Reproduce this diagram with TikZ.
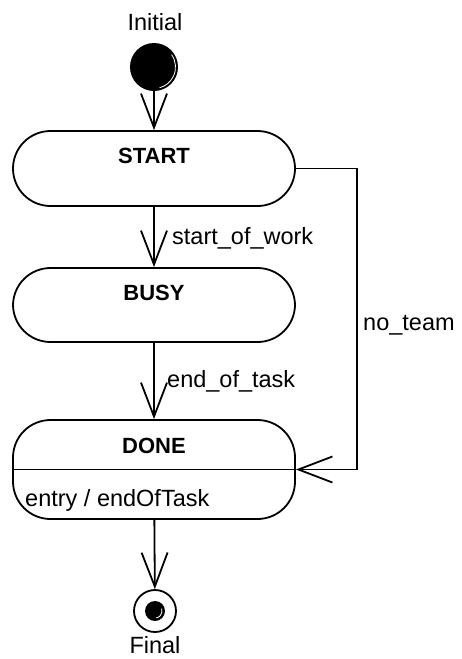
\documentclass[tikz,border=0pt]{standalone}
\usepackage{fontspec}
\setmainfont{Liberation Sans}
\usetikzlibrary{arrows.meta}
\tikzset{
  state/.style={draw, line width=1.8pt, rounded corners=37.5pt, minimum width=282pt, inner sep=0pt},
  trans/.style={draw, line width=1.8pt, -{Straight Barb[length=34pt,width=26pt,line width=1.8pt]}},
  lbl/.style={font=\fontsize{23.5}{27}\selectfont, inner sep=0pt},
  ttl/.style={font=\fontsize{22}{26}\selectfont\bfseries, inner sep=0pt, anchor=base},
}
\begin{document}
\begin{tikzpicture}[x=1pt,y=-1pt]
\useasboundingbox (0,0) rectangle (461,659);

% initial pseudo-state
\node[lbl, anchor=base] (initlbl) at (155,30) {Initial};
\node[circle, fill=black, minimum size=48pt, inner sep=0pt] (init) at (154,67) {};
\draw[white, line width=0.8pt] (init.center) ++(-35:21.5) arc[start angle=-35, end angle=75, radius=21.5];

% states
\node[state, minimum height=75pt] (start) at (154,168.5) {};
\node[ttl] (startT) at (154,163) {START};
\node[state, minimum height=74pt] (busy) at (154,305) {};
\node[ttl] (busyT) at (154,300) {BUSY};
\node[state, minimum height=99pt] (done) at (154,469.5) {};
\node[ttl] (doneT) at (154,453) {DONE};
\draw[line width=1.8pt] (done.west) -- (done.east);
\node[lbl, anchor=base west] (entry) at (25,506) {entry / endOfTask};

% final state
\node[circle, draw, line width=1.8pt, minimum size=42pt, inner sep=0pt] (final) at (155,611) {};
\node[circle, fill=black, minimum size=20pt, inner sep=0pt] (finaldot) at (155,611) {};
\draw[white, line width=0.8pt] (finaldot.center) ++(-20:7) arc[start angle=-20, end angle=80, radius=7];
\node[lbl, anchor=base] (finallbl) at (155,653) {Final};

% transitions
\draw[trans] (init) -- (start);
\draw[trans] (start) -- (busy);
\node[lbl, anchor=base west] (t1) at (172,244) {start\_of\_work};
\draw[trans] (busy) -- (done);
\node[lbl, anchor=base west] (t2) at (167,387) {end\_of\_task};
\draw[trans] (start.east) -- ++(61,0) |- (done.east);
\node[lbl, anchor=base west] (t3) at (363,330) {no\_team};
\draw[trans] (done) -- (final);
\end{tikzpicture}
\end{document}
